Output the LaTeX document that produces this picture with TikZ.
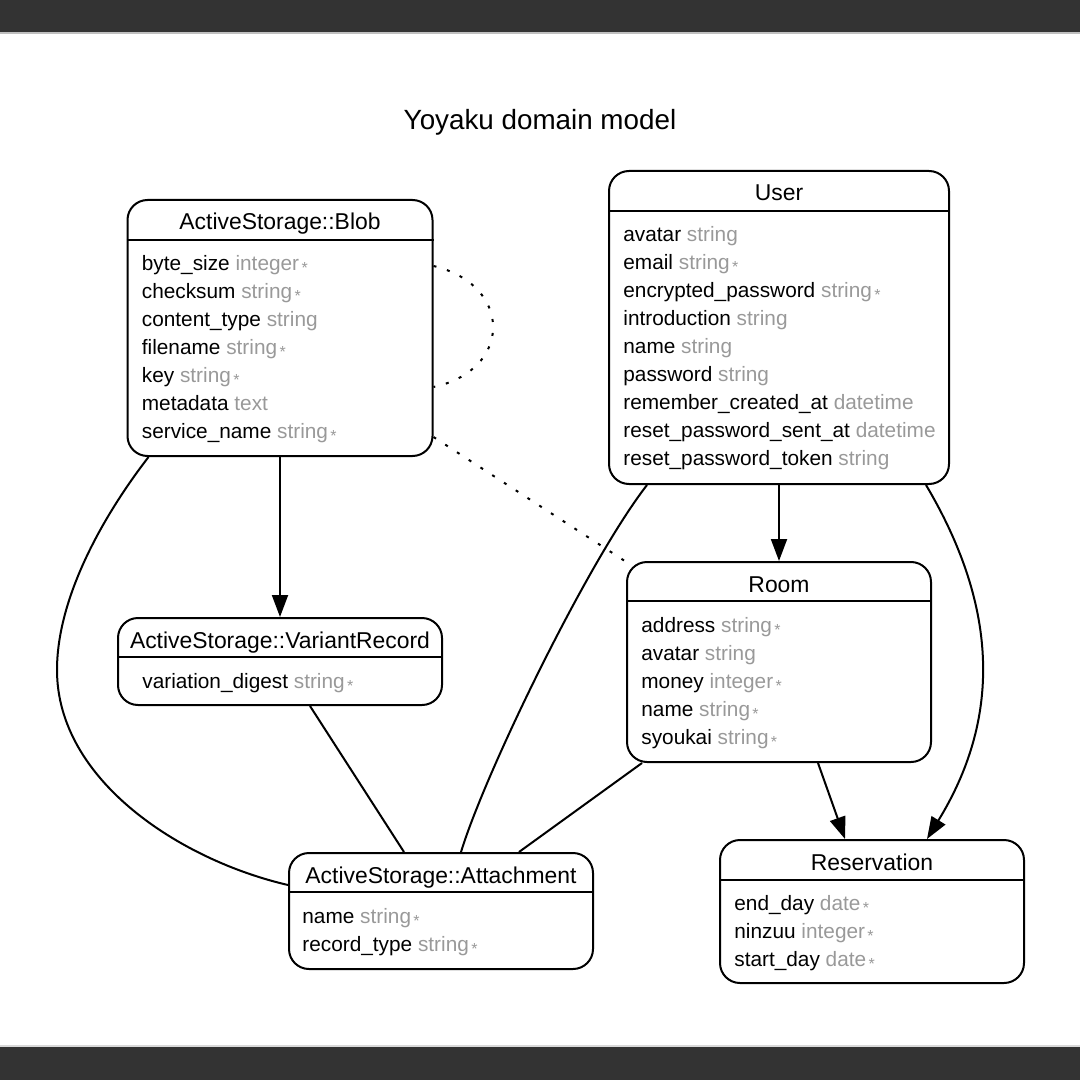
\documentclass[tikz,border=0pt]{standalone}
\usepackage{fontspec}
\setmainfont{Liberation Sans}
\usetikzlibrary{arrows.meta,calc}
\definecolor{typegray}{HTML}{999999}
\definecolor{barcolor}{HTML}{333333}
\newcommand{\reqd}{\kern1.2pt\raisebox{-1.7pt}{\fontsize{8}{8}\selectfont *}}
\begin{document}
\begin{tikzpicture}[x=0.5pt,y=-0.5pt,
  entity/.style={draw, line width=1pt, rounded corners=10pt, inner sep=0pt},
  header/.style={anchor=base, inner sep=0pt, font=\fontsize{11.45}{14}\selectfont},
  attr/.style={anchor=base west, inner sep=0pt, font=\fontsize{10.4}{14}\selectfont},
  rel/.style={line width=1pt},
  fk/.style={rel, -{Triangle[length=11pt,width=8pt]}},
  loose/.style={line width=1pt, dash pattern=on 1.5pt off 5.5pt}]
\useasboundingbox (0,0) rectangle (1080,1080);
\fill[barcolor] (0,0) rectangle (1080,32);
\fill[barcolor] (0,1047) rectangle (1080,1080);
\draw[black!25, line width=1pt] (0,33) -- (1080,33);
\draw[black!15, line width=1pt] (0,1046) -- (1080,1046);
\node[anchor=base, inner sep=0pt, font=\fontsize{13.9}{16}\selectfont] (title) at (540,130) {Yoyaku domain model};
% ActiveStorage::Blob
\node[entity, minimum width=152.5pt, minimum height=128pt] (blob) at (280,328) {};
\draw[line width=1pt] ($(blob.north west)+(0,41)$) -- ($(blob.north east)+(0,41)$);
\node[header] (blob-title) at ($(blob.north)+(0,31)$) {ActiveStorage::Blob};
\foreach \fname/\ftype [count=\i from 0] in {byte\_size/integer\reqd, checksum/string\reqd,
    content\_type/string, filename/string\reqd, key/string\reqd, metadata/text, service\_name/string\reqd}
  \node[attr] (blob-\i) at ($(blob.north west)+(15,71.5+28*\i)$) {\fname\ \textcolor{typegray}{\ftype}};
% User
\node[entity, minimum width=170pt, minimum height=156.5pt] (user) at (779,327.5) {};
\draw[line width=1pt] ($(user.north west)+(0,41)$) -- ($(user.north east)+(0,41)$);
\node[header] (user-title) at ($(user.north)+(0,31)$) {User};
\foreach \fname/\ftype [count=\i from 0] in {avatar/string, email/string\reqd,
    encrypted\_password/string\reqd, introduction/string, name/string, password/string,
    remember\_created\_at/datetime, reset\_password\_sent\_at/datetime, reset\_password\_token/string}
  \node[attr] (user-\i) at ($(user.north west)+(15,71.5+28*\i)$) {\fname\ \textcolor{typegray}{\ftype}};
% Room
\node[entity, minimum width=152pt, minimum height=100pt] (room) at (779,662) {};
\draw[line width=1pt] ($(room.north west)+(0,40)$) -- ($(room.north east)+(0,40)$);
\node[header] (room-title) at ($(room.north)+(0,31)$) {Room};
\foreach \fname/\ftype [count=\i from 0] in {address/string\reqd, avatar/string,
    money/integer\reqd, name/string\reqd, syoukai/string\reqd}
  \node[attr] (room-\i) at ($(room.north west)+(15,71.5+28*\i)$) {\fname\ \textcolor{typegray}{\ftype}};
% ActiveStorage::VariantRecord
\node[entity, minimum width=162pt, minimum height=43.5pt] (variant) at (280,661.5) {};
\draw[line width=1pt] ($(variant.north west)+(0,40)$) -- ($(variant.north east)+(0,40)$);
\node[header] (variant-title) at ($(variant.north)+(0,31)$) {ActiveStorage::VariantRecord};
\node[attr] (variant-0) at ($(variant.north west)+(25,71.5)$) {variation\_digest \textcolor{typegray}{string\reqd}};
% ActiveStorage::Attachment
\node[entity, minimum width=152pt, minimum height=58pt] (attach) at (441,911) {};
\draw[line width=1pt] ($(attach.north west)+(0,40)$) -- ($(attach.north east)+(0,40)$);
\node[header] (attach-title) at ($(attach.north)+(0,31)$) {ActiveStorage::Attachment};
\foreach \fname/\ftype [count=\i from 0] in {name/string\reqd, record\_type/string\reqd}
  \node[attr] (attach-\i) at ($(attach.north west)+(14,71.5+28*\i)$) {\fname\ \textcolor{typegray}{\ftype}};
% Reservation
\node[entity, minimum width=152pt, minimum height=71.5pt] (resv) at (872,911.5) {};
\draw[line width=1pt] ($(resv.north west)+(0,41)$) -- ($(resv.north east)+(0,41)$);
\node[header] (resv-title) at ($(resv.north)+(0,31)$) {Reservation};
\foreach \fname/\ftype [count=\i from 0] in {end\_day/date\reqd, ninzuu/integer\reqd, start\_day/date\reqd}
  \node[attr] (resv-\i) at ($(resv.north west)+(15,71.5+28*\i)$) {\fname\ \textcolor{typegray}{\ftype}};
% relations
\draw[fk] (blob.south) -- (variant.north);
\draw[fk] (user.south) -- (room.north);
\draw[fk] ($(user.south east)+(-24,0)$) .. controls (1000,610) and (1000,720) .. ($(resv.north)+(55,0)$);
\draw[fk] ($(room.south)+(39,0)$) -- ($(resv.north)+(-27,0)$);
\draw[rel] ($(blob.south west)+(22,0)$) .. controls (100,520) and (57,600) .. (57,670)
  .. controls (57,780) and (180,860) .. ($(attach.west)+(0,-26)$);
\draw[rel] ($(variant.south)+(30,0)$) -- ($(attach.north)+(-37,0)$);
\draw[rel] ($(user.south west)+(39,0)$) .. controls (588,561) and (485,773) .. ($(attach.north)+(20,0)$);
\draw[rel] ($(room.south west)+(16,0)$) -- ($(attach.north)+(78,0)$);
\draw[loose] ($(blob.east)+(0,-62)$) .. controls (513,285) and (513,370) .. ($(blob.east)+(0,59)$);
\draw[loose] ($(blob.east)+(0,109)$) -- ($(room.north west)+(5,4)$);
\end{tikzpicture}
\end{document}
